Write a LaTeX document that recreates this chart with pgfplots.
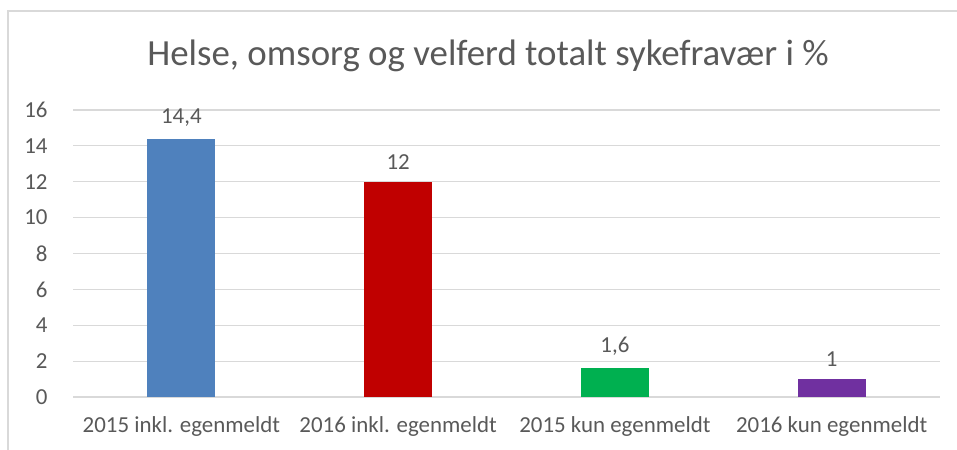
\documentclass[border=0pt]{standalone}
\usepackage{fontspec}
\setmainfont{Carlito}
\usepackage{pgfplots}
\pgfplotsset{compat=1.18}
\definecolor{textgray}{HTML}{595959}
\definecolor{gridgray}{HTML}{D9D9D9}
\definecolor{barblue}{HTML}{4F81BD}
\definecolor{barred}{HTML}{C00000}
\definecolor{bargreen}{HTML}{00B050}
\definecolor{barpurple}{HTML}{7030A0}

\begin{document}
\begin{tikzpicture}
\clip (0bp,0bp) rectangle (957bp,450bp);
\fill[white] (0bp,0bp) rectangle (957bp,450bp);
\draw[gridgray, line width=1.2bp] (8bp,-10bp) rectangle (970bp,439bp);
\node[font=\fontsize{37}{44}\selectfont, text=textgray] at (488bp,394bp)
  {Helse, omsorg og velferd totalt sykefravær i \%};
\begin{axis}[
    at={(73bp,53bp)}, anchor=south west,
    scale only axis,
    width=867bp, height=287bp,
    xmin=-0.5, xmax=3.5,
    ymin=0, ymax=16,
    ytick={0,2,...,16},
    xtick={0,1,2,3},
    xticklabels={2015 inkl. egenmeldt, 2016 inkl. egenmeldt, 2015 kun egenmeldt, 2016 kun egenmeldt},
    axis line style={draw=none},
    major tick length=0pt,
    ymajorgrids,
    grid style={gridgray, line width=1.2bp},
    ybar, bar width=68bp, bar shift=0pt,
    /pgf/number format/use comma,
    /pgf/number format/assume math mode=true,
    nodes near coords,
    nodes near coords style={font=\fontsize{23}{27}\selectfont, text=textgray, anchor=south, yshift=9bp},
    tick label style={font=\fontsize{23}{27}\selectfont, text=textgray},
    yticklabel style={xshift=-22bp},
    xticklabel style={yshift=-16bp},
]
\addplot[fill=barblue, draw=none] coordinates {(0,14.4)};
\addplot[fill=barred, draw=none] coordinates {(1,12)};
\addplot[fill=bargreen, draw=none] coordinates {(2,1.6)};
\addplot[fill=barpurple, draw=none] coordinates {(3,1)};
\end{axis}
\end{tikzpicture}
\end{document}
